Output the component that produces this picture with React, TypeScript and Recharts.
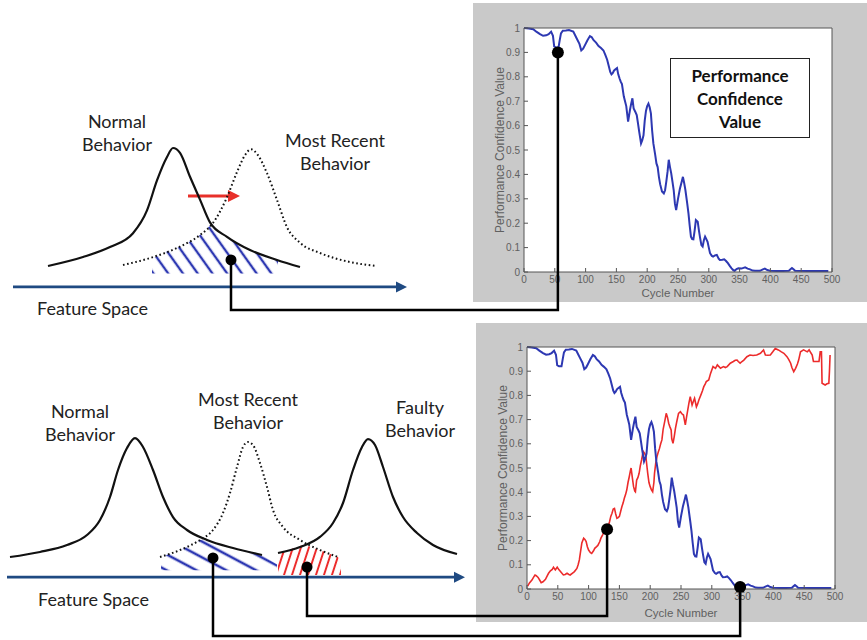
import React from "react";
import {
  LineChart,
  ComposedChart,
  Line,
  Area,
  XAxis,
  YAxis,
  CartesianGrid,
  ReferenceDot,
  ReferenceLine,
} from "recharts";

type Pt = [number, number];

// Performance confidence value per cycle, normal-behaviour model (cycle, value)
const normalPcv: Pt[] = [
  [0, 1.0], [8, 0.998], [15, 0.995], [20, 0.985], [26, 0.975], [31, 0.968], [36, 0.97],
  [40, 0.975], [44, 0.985], [47, 0.968], [49, 0.925], [52, 0.92], [56, 0.92], [58, 0.95],
  [60, 0.978], [63, 0.989], [68, 0.99], [73, 0.992], [80, 0.985], [83, 0.97], [86, 0.955],
  [90, 0.935], [93, 0.908], [96, 0.915], [99, 0.93], [103, 0.95], [107, 0.967], [110, 0.962],
  [113, 0.95], [117, 0.94], [121, 0.926], [125, 0.918], [129, 0.908], [132, 0.89], [135, 0.87],
  [138, 0.84], [140, 0.82], [142, 0.81], [144, 0.815], [146, 0.825], [148, 0.83], [151, 0.836],
  [153, 0.81], [155, 0.794], [157, 0.78], [159, 0.77], [162, 0.72], [164, 0.7], [166, 0.68],
  [169, 0.616], [172, 0.664], [174, 0.69], [176, 0.712], [178, 0.67], [181, 0.655], [183, 0.643],
  [185, 0.61], [187, 0.575], [190, 0.527], [192, 0.54], [194, 0.56], [196, 0.62], [198, 0.66],
  [200, 0.68], [202, 0.69], [204, 0.675], [206, 0.65], [208, 0.58], [210, 0.527], [213, 0.48],
  [215, 0.445], [217, 0.43], [219, 0.39], [221, 0.36], [224, 0.33], [227, 0.322], [229, 0.335],
  [231, 0.37], [233, 0.41], [235, 0.46], [237, 0.43], [239, 0.404], [241, 0.37], [243, 0.336],
  [245, 0.28], [247, 0.254], [250, 0.3], [253, 0.34], [256, 0.37], [258, 0.39], [260, 0.365],
  [262, 0.336], [265, 0.28], [267, 0.24], [269, 0.19], [271, 0.145], [273, 0.135], [275, 0.134],
  [277, 0.17], [279, 0.213], [282, 0.206], [284, 0.17], [286, 0.138], [288, 0.11], [290, 0.104],
  [292, 0.13], [294, 0.145], [296, 0.135], [298, 0.124], [300, 0.1], [302, 0.077], [305, 0.066],
  [307, 0.063], [310, 0.068], [313, 0.07], [316, 0.055], [318, 0.049], [322, 0.05], [325, 0.052],
  [328, 0.045], [331, 0.036], [334, 0.025], [337, 0.015], [340, 0.007], [342, 0.005], [345, 0.012],
  [348, 0.015], [353, 0.014], [359, 0.019], [363, 0.014], [367, 0.011], [371, 0.006], [375, 0.005],
  [383, 0.005], [387, 0.01], [391, 0.014], [395, 0.008], [399, 0.005], [410, 0.004], [420, 0.004],
  [430, 0.005], [433, 0.012], [435, 0.016], [438, 0.01], [440, 0.005], [460, 0.004], [480, 0.004],
  [494, 0.004],
];

// Performance confidence value per cycle, faulty-behaviour model (cycle, value)
const faultyPcv: Pt[] = [
  [1, 0.012], [4, 0.025], [8, 0.037], [11, 0.05], [13, 0.058], [15, 0.055], [18, 0.048],
  [21, 0.035], [23, 0.026], [26, 0.03], [30, 0.04], [33, 0.055], [35, 0.065], [38, 0.075],
  [41, 0.081], [43, 0.09], [46, 0.079], [49, 0.09], [52, 0.079], [55, 0.07], [59, 0.058],
  [62, 0.06], [65, 0.065], [68, 0.06], [70, 0.058], [74, 0.066], [77, 0.072], [81, 0.085],
  [83, 0.1], [85, 0.12], [87, 0.155], [89, 0.19], [92, 0.21], [94, 0.205], [96, 0.196],
  [98, 0.175], [100, 0.161], [103, 0.15], [105, 0.147], [108, 0.158], [110, 0.168], [113, 0.175],
  [115, 0.18], [118, 0.195], [120, 0.21], [123, 0.225], [125, 0.237], [128, 0.242], [130, 0.247],
  [132, 0.26], [134, 0.278], [136, 0.3], [138, 0.313], [140, 0.33], [142, 0.333], [144, 0.31],
  [146, 0.292], [148, 0.295], [150, 0.3], [152, 0.32], [154, 0.34], [156, 0.355], [158, 0.375],
  [160, 0.39], [162, 0.41], [164, 0.44], [166, 0.464], [168, 0.49], [169, 0.5], [171, 0.46],
  [173, 0.423], [175, 0.405], [176, 0.402], [178, 0.45], [180, 0.46], [182, 0.478], [184, 0.51],
  [186, 0.533], [188, 0.56], [189, 0.567], [191, 0.56], [193, 0.547], [195, 0.5], [196, 0.478],
  [198, 0.44], [200, 0.423], [202, 0.41], [204, 0.402], [206, 0.44], [207, 0.478], [209, 0.52],
  [211, 0.547], [213, 0.565], [215, 0.58], [217, 0.6], [219, 0.616], [221, 0.66], [224, 0.698],
  [226, 0.726], [228, 0.71], [230, 0.685], [232, 0.67], [234, 0.657], [235, 0.62], [237, 0.602],
  [239, 0.63], [241, 0.664], [243, 0.69], [246, 0.726], [249, 0.733], [251, 0.725], [254, 0.719],
  [257, 0.678], [259, 0.71], [261, 0.74], [263, 0.77], [265, 0.795], [268, 0.76], [270, 0.775],
  [272, 0.788], [275, 0.753], [277, 0.765], [279, 0.781], [282, 0.8], [285, 0.82], [287, 0.836],
  [289, 0.845], [291, 0.857], [295, 0.864], [298, 0.891], [300, 0.905], [302, 0.919], [306, 0.912],
  [309, 0.926], [312, 0.918], [314, 0.912], [319, 0.919], [322, 0.915], [325, 0.919], [330, 0.933],
  [335, 0.94], [338, 0.945], [341, 0.946], [343, 0.94], [346, 0.933], [349, 0.94], [352, 0.946],
  [357, 0.96], [362, 0.967], [367, 0.965], [373, 0.967], [379, 0.974], [384, 0.988], [387, 0.967],
  [391, 0.966], [395, 0.967], [399, 0.98], [403, 0.994], [408, 0.988], [413, 0.98], [417, 0.974],
  [422, 0.96], [425, 0.948], [428, 0.933], [430, 0.915], [433, 0.898], [436, 0.912], [439, 0.93],
  [441, 0.946], [444, 0.98], [449, 0.988], [455, 0.98], [458, 0.988], [461, 0.975], [463, 0.967],
  [465, 0.94], [470, 0.94], [474, 0.94], [476, 0.98], [478, 0.98], [479, 0.85], [484, 0.843],
  [487, 0.848], [490, 0.85], [491, 0.9], [492, 0.967],
];

const cycleTicks = [0, 50, 100, 150, 200, 250, 300, 350, 400, 450, 500];
const pcvTicks = [0, 0.1, 0.2, 0.3, 0.4, 0.5, 0.6, 0.7, 0.8, 0.9, 1];

// Schematic densities along the feature axis (feature units, density)
const upperNormal: Pt[] = [
  [9.5, 0.017], [18.25, 0.092], [25, 0.175], [30.75, 0.29], [34.25, 0.48], [36.75, 0.73],
  [39.25, 0.925], [40.75, 1.0], [42.5, 0.96], [45, 0.76], [47.5, 0.57], [50, 0.38],
  [54.25, 0.26], [60, 0.15], [66.75, 0.067], [72.5, 0.008],
];
const upperRecent: Pt[] = [
  [28.25, 0.025], [35, 0.083], [41.75, 0.167], [47.5, 0.275], [50.75, 0.375], [54.25, 0.59],
  [56.75, 0.8], [58.75, 0.94], [60.25, 0.99], [62, 0.94], [64.25, 0.79], [66.75, 0.567],
  [69.25, 0.34], [72.5, 0.21], [77.5, 0.125], [85, 0.05], [91.75, 0.017],
];
const upperOverlap: Pt[] = [
  [35.5, 0.08], [38.5, 0.13], [41.75, 0.167], [45, 0.22], [47.5, 0.275], [50.4, 0.365],
  [52, 0.31], [54.25, 0.26], [57, 0.2], [60, 0.15], [63.5, 0.1], [67, 0.065],
];
const upperShift: Pt[] = [[44.5, 0.6], [57.5, 0.6]];
const upperAxis: Pt[] = [[0.75, -0.158], [99.25, -0.158]];

const lowerNormal: Pt[] = [
  [1.25, 0], [8.75, 0.042], [15.5, 0.1], [20.5, 0.183], [23.75, 0.308], [26.25, 0.5],
  [28.25, 0.725], [30.5, 0.908], [32.5, 0.99], [34.5, 0.917], [37, 0.725], [39.5, 0.5],
  [42, 0.333], [45.5, 0.225], [50.5, 0.142], [57, 0.075], [64.25, 0.017],
];
const lowerRecent: Pt[] = [
  [38.75, 0], [43.75, 0.058], [48.75, 0.142], [52, 0.225], [54.5, 0.367], [56.25, 0.533],
  [58, 0.75], [59.5, 0.917], [60.75, 0.958], [62, 0.933], [63.75, 0.783], [65.5, 0.583],
  [67, 0.392], [69.5, 0.25], [73.75, 0.142], [78.75, 0.058], [83.25, 0],
];
const lowerFaulty: Pt[] = [
  [68.25, 0.033], [73.75, 0.083], [78.75, 0.167], [82, 0.283], [84.5, 0.45], [87, 0.725],
  [89.25, 0.917], [90.75, 0.983], [92.5, 0.933], [94.5, 0.75], [97, 0.5], [99.5, 0.333],
  [103, 0.2], [107, 0.1], [113, 0.025],
];
const lowerNormalOverlap: Pt[] = [
  [39, 0], [43.75, 0.058], [46.5, 0.1], [49, 0.145], [50.5, 0.142], [54, 0.1], [57, 0.075],
  [61, 0.045], [64.25, 0.017], [68, -0.06],
];
const lowerFaultyOverlap: Pt[] = [
  [68.25, 0.033], [71, 0.06], [74, 0.095], [76, 0.09], [78.75, 0.058], [81, 0.03], [83.25, 0],
  [84, -0.05],
];
const lowerAxis: Pt[] = [[0.5, -0.168], [115, -0.168]];

// Markers tying a region of feature space to a point on a confidence curve
const shiftMarker = { cycle: 55, pcv: 0.9, feature: 55.25, density: 0.067 };
const faultyMarker = { cycle: 130, pcv: 0.247, feature: 75.5, density: -0.084 };
const normalMarker = { cycle: 346, pcv: 0.008, feature: 52, density: -0.008 };

const BLUE = "#2d38b2";
const RED = "#ec2b2b";
const AXIS_BLUE = "#1f4a82";
const TICK_GREY = "#606060";
const BOX_GREY = "#555";

const TOP_PANEL = { left: 473, top: 3, width: 394, height: 299 };
const TOP_PLOT = { left: 51, top: 25, width: 308, height: 244 };
const BOTTOM_PANEL = { left: 476, top: 323, width: 391, height: 299 };
const BOTTOM_PLOT = { left: 51, top: 24, width: 308, height: 242 };

const DENSITY_DOMAIN: [number, number] = [-0.3, 1.2];
const TOP_DIAGRAM = { left: 10, top: 124, width: 400, height: 180, xMax: 100 };
const BOTTOM_DIAGRAM = { left: 5, top: 413, width: 460, height: 180, xMax: 115 };

const rows = (pts: Pt[]) => pts.map(([x, y]) => ({ x, y }));

type Panel = typeof TOP_PANEL;
type Plot = typeof TOP_PLOT;
type Diagram = typeof TOP_DIAGRAM;

const plotX = (panel: Panel, plot: Plot, cycle: number) =>
  panel.left + plot.left + (cycle / 500) * plot.width;
const plotY = (panel: Panel, plot: Plot, v: number) =>
  panel.top + plot.top + (1 - v) * plot.height;
const diagX = (d: Diagram, u: number) => d.left + (u / d.xMax) * d.width;
const diagY = (d: Diagram, dens: number) =>
  d.top + ((DENSITY_DOMAIN[1] - dens) / (DENSITY_DOMAIN[1] - DENSITY_DOMAIN[0])) * d.height;

const arrowShape =
  (color: string, width: number, len: number, half: number) =>
  // eslint-disable-next-line @typescript-eslint/no-explicit-any
  (p: any) => (
    <g>
      <line x1={p.x1} y1={p.y1} x2={p.x2 - len + 1} y2={p.y2} stroke={color} strokeWidth={width} />
      <polygon
        points={`${p.x2},${p.y2} ${p.x2 - len},${p.y2 - half} ${p.x2 - len},${p.y2 + half}`}
        fill={color}
      />
    </g>
  );

interface Series {
  pts: Pt[];
  color: string;
  width: number;
}

function PcvChart({
  panel,
  plot,
  series,
  markers,
}: {
  panel: Panel;
  plot: Plot;
  series: Series[];
  markers: { cycle: number; pcv: number }[];
}) {
  const xAxisHeight = panel.height - plot.top - plot.height;
  const tickStyle = { fontSize: 10, fill: TICK_GREY, fontFamily: "Liberation Sans, Arial" };
  const labelStyle = {
    fill: TICK_GREY,
    fontFamily: "Liberation Sans, Arial",
    textAnchor: "middle" as const,
  };
  return (
    <div
      style={{
        position: "absolute",
        left: panel.left,
        top: panel.top,
        width: panel.width,
        height: panel.height,
        background: "#c9c9c9",
      }}
    >
      <LineChart
        width={panel.width}
        height={panel.height}
        margin={{
          top: plot.top - 1,
          left: plot.left - 45,
          right: panel.width - plot.left - plot.width - 1,
          bottom: 0,
        }}
      >
        <CartesianGrid fill="#fff" horizontal={false} vertical={false} />
        <XAxis
          type="number"
          dataKey="x"
          domain={[0, 500]}
          ticks={cycleTicks}
          height={xAxisHeight}
          stroke={BOX_GREY}
          tickSize={-4}
          tickMargin={8}
          tick={tickStyle}
          label={{
            value: "Cycle Number",
            position: "insideBottom",
            offset: 5,
            style: { ...labelStyle, fontSize: 11.5 },
          }}
        />
        <XAxis
          xAxisId="top"
          orientation="top"
          type="number"
          domain={[0, 500]}
          ticks={cycleTicks}
          height={1}
          stroke={BOX_GREY}
          tickSize={-4}
          tick={false}
        />
        <YAxis
          type="number"
          domain={[0, 1]}
          ticks={pcvTicks}
          width={45}
          stroke={BOX_GREY}
          tickSize={-4}
          tickMargin={8}
          tick={tickStyle}
          label={{
            value: "Performance Confidence Value",
            angle: -90,
            position: "insideLeft",
            offset: 21,
            style: { ...labelStyle, fontSize: 12 },
          }}
        />
        <YAxis
          yAxisId="right"
          orientation="right"
          type="number"
          domain={[0, 1]}
          ticks={pcvTicks}
          width={1}
          stroke={BOX_GREY}
          tickSize={-4}
          tick={false}
        />
        {series.map((s, i) => (
          <Line
            key={i}
            data={rows(s.pts)}
            dataKey="y"
            type="linear"
            stroke={s.color}
            strokeWidth={s.width}
            dot={false}
            isAnimationActive={false}
          />
        ))}
        {markers.map((m, i) => (
          <ReferenceDot key={i} x={m.cycle} y={m.pcv} r={6} fill="#000" stroke="none" />
        ))}
      </LineChart>
    </div>
  );
}

function DiagramChart({
  box,
  solid,
  dotted,
  hatches,
  axis,
  shift,
  markers,
}: {
  box: Diagram;
  solid: Pt[][];
  dotted: Pt[];
  hatches: { pts: Pt[]; base: number; fill: string }[];
  axis: Pt[];
  shift?: Pt[];
  markers: { feature: number; density: number }[];
}) {
  const seg = (pts: Pt[]) => pts.map(([x, y]) => ({ x, y }));
  return (
    <div style={{ position: "absolute", left: box.left, top: box.top }}>
      <ComposedChart width={box.width} height={box.height} margin={{ top: 0, right: 0, bottom: 0, left: 0 }}>
        <XAxis type="number" dataKey="x" domain={[0, box.xMax]} hide />
        <YAxis type="number" dataKey="y" domain={DENSITY_DOMAIN} hide />
        {hatches.map((h, i) => (
          <Area
            key={`h${i}`}
            data={rows(h.pts)}
            dataKey="y"
            type="linear"
            baseValue={h.base}
            fill={h.fill}
            fillOpacity={1}
            stroke="none"
            isAnimationActive={false}
          />
        ))}
        <ReferenceLine segment={seg(axis)} shape={arrowShape(AXIS_BLUE, 2.8, 11, 5.5)} />
        {shift && <ReferenceLine segment={seg(shift)} shape={arrowShape("#e8302a", 3, 12, 6)} />}
        {solid.map((c, i) => (
          <Line
            key={`s${i}`}
            data={rows(c)}
            dataKey="y"
            type="monotone"
            stroke="#111"
            strokeWidth={2.2}
            dot={false}
            isAnimationActive={false}
          />
        ))}
        <Line
          data={rows(dotted)}
          dataKey="y"
          type="monotone"
          stroke="#111"
          strokeWidth={2}
          strokeDasharray="1.6 2.6"
          dot={false}
          isAnimationActive={false}
        />
        {markers.map((m, i) => (
          <ReferenceDot key={i} x={m.feature} y={m.density} r={5.5} fill="#000" stroke="none" />
        ))}
      </ComposedChart>
    </div>
  );
}

const textStyle: React.CSSProperties = {
  position: "absolute",
  fontFamily: "Lato, 'Open Sans', sans-serif",
  fontSize: 18,
  lineHeight: "23px",
  color: "#222",
  textAlign: "center",
  whiteSpace: "nowrap",
};

function Caption({ x, y, lines }: { x: number; y: number; lines: string[] }) {
  return (
    <div style={{ ...textStyle, left: x - 80, top: y, width: 160 }}>
      {lines.map((l) => (
        <div key={l}>{l}</div>
      ))}
    </div>
  );
}

export default function App() {
  const topDot = {
    x: plotX(TOP_PANEL, TOP_PLOT, shiftMarker.cycle),
    y: plotY(TOP_PANEL, TOP_PLOT, shiftMarker.pcv),
  };
  const topDiagDot = { x: diagX(TOP_DIAGRAM, shiftMarker.feature), y: diagY(TOP_DIAGRAM, shiftMarker.density) };
  const redDot = {
    x: plotX(BOTTOM_PANEL, BOTTOM_PLOT, faultyMarker.cycle),
    y: plotY(BOTTOM_PANEL, BOTTOM_PLOT, faultyMarker.pcv),
  };
  const redDiagDot = {
    x: diagX(BOTTOM_DIAGRAM, faultyMarker.feature),
    y: diagY(BOTTOM_DIAGRAM, faultyMarker.density),
  };
  const blueDot = {
    x: plotX(BOTTOM_PANEL, BOTTOM_PLOT, normalMarker.cycle),
    y: plotY(BOTTOM_PANEL, BOTTOM_PLOT, normalMarker.pcv),
  };
  const blueDiagDot = {
    x: diagX(BOTTOM_DIAGRAM, normalMarker.feature),
    y: diagY(BOTTOM_DIAGRAM, normalMarker.density),
  };
  // routing levels of the connector runs below each panel
  const elbow = (a: { x: number; y: number }, b: { x: number; y: number }, level: number) =>
    `${a.x},${a.y} ${a.x},${level} ${b.x},${level} ${b.x},${b.y}`;

  return (
    <div
      style={{
        position: "absolute",
        left: 0,
        top: 0,
        width: 867,
        height: 640,
        background: "#fff",
        overflow: "hidden",
        fontFamily: "Lato, sans-serif",
      }}
    >
      <svg width={0} height={0} style={{ position: "absolute" }}>
        <defs>
          <pattern id="hatchUpper" patternUnits="userSpaceOnUse" width={12} height={12} patternTransform="rotate(-35.5)">
            <line x1={6} y1={0} x2={6} y2={12} stroke={BLUE} strokeWidth={2.4} />
          </pattern>
          <pattern id="hatchLowerBlue" patternUnits="userSpaceOnUse" width={14} height={14} patternTransform="rotate(-62)">
            <line x1={7} y1={0} x2={7} y2={14} stroke={BLUE} strokeWidth={2.6} />
          </pattern>
          <pattern id="hatchLowerRed" patternUnits="userSpaceOnUse" width={7.6} height={8} patternTransform="rotate(18)">
            <line x1={3.8} y1={0} x2={3.8} y2={8} stroke={RED} strokeWidth={2} />
          </pattern>
        </defs>
      </svg>

      <PcvChart
        panel={TOP_PANEL}
        plot={TOP_PLOT}
        series={[{ pts: normalPcv, color: BLUE, width: 2 }]}
        markers={[shiftMarker]}
      />
      <PcvChart
        panel={BOTTOM_PANEL}
        plot={BOTTOM_PLOT}
        series={[
          { pts: faultyPcv, color: RED, width: 1.6 },
          { pts: normalPcv, color: BLUE, width: 2 },
        ]}
        markers={[faultyMarker, normalMarker]}
      />

      <div
        style={{
          position: "absolute",
          left: 670,
          top: 58,
          width: 140,
          height: 80,
          boxSizing: "border-box",
          border: "1.5px solid #222",
          background: "#fff",
          display: "flex",
          alignItems: "center",
          justifyContent: "center",
          textAlign: "center",
          fontFamily: "Lato, sans-serif",
          fontWeight: 700,
          fontSize: 17,
          lineHeight: "23px",
          color: "#111",
        }}
      >
        Performance
        <br />
        Confidence
        <br />
        Value
      </div>

      <DiagramChart
        box={TOP_DIAGRAM}
        solid={[upperNormal]}
        dotted={upperRecent}
        hatches={[{ pts: upperOverlap, base: -0.045, fill: "url(#hatchUpper)" }]}
        axis={upperAxis}
        shift={upperShift}
        markers={[shiftMarker]}
      />
      <DiagramChart
        box={BOTTOM_DIAGRAM}
        solid={[lowerNormal, lowerFaulty]}
        dotted={lowerRecent}
        hatches={[
          { pts: lowerNormalOverlap, base: -0.11, fill: "url(#hatchLowerBlue)" },
          { pts: lowerFaultyOverlap, base: -0.15, fill: "url(#hatchLowerRed)" },
        ]}
        axis={lowerAxis}
        markers={[faultyMarker, normalMarker]}
      />

      <Caption x={117} y={110} lines={["Normal", "Behavior"]} />
      <Caption x={335} y={129} lines={["Most Recent", "Behavior"]} />
      <div style={{ ...textStyle, left: 37, top: 297, textAlign: "left" }}>Feature Space</div>

      <Caption x={80} y={400} lines={["Normal", "Behavior"]} />
      <Caption x={248} y={388} lines={["Most Recent", "Behavior"]} />
      <Caption x={420} y={396} lines={["Faulty", "Behavior"]} />
      <div style={{ ...textStyle, left: 38, top: 588, textAlign: "left" }}>Feature Space</div>

      <svg
        width={867}
        height={640}
        style={{ position: "absolute", left: 0, top: 0, pointerEvents: "none" }}
      >
        <g fill="none" stroke="#000" strokeWidth={2.5}>
          <polyline points={elbow(topDot, topDiagDot, 310)} />
          <polyline points={elbow(redDot, redDiagDot, 616)} />
          <polyline points={elbow(blueDot, blueDiagDot, 636)} />
        </g>
      </svg>
    </div>
  );
}
